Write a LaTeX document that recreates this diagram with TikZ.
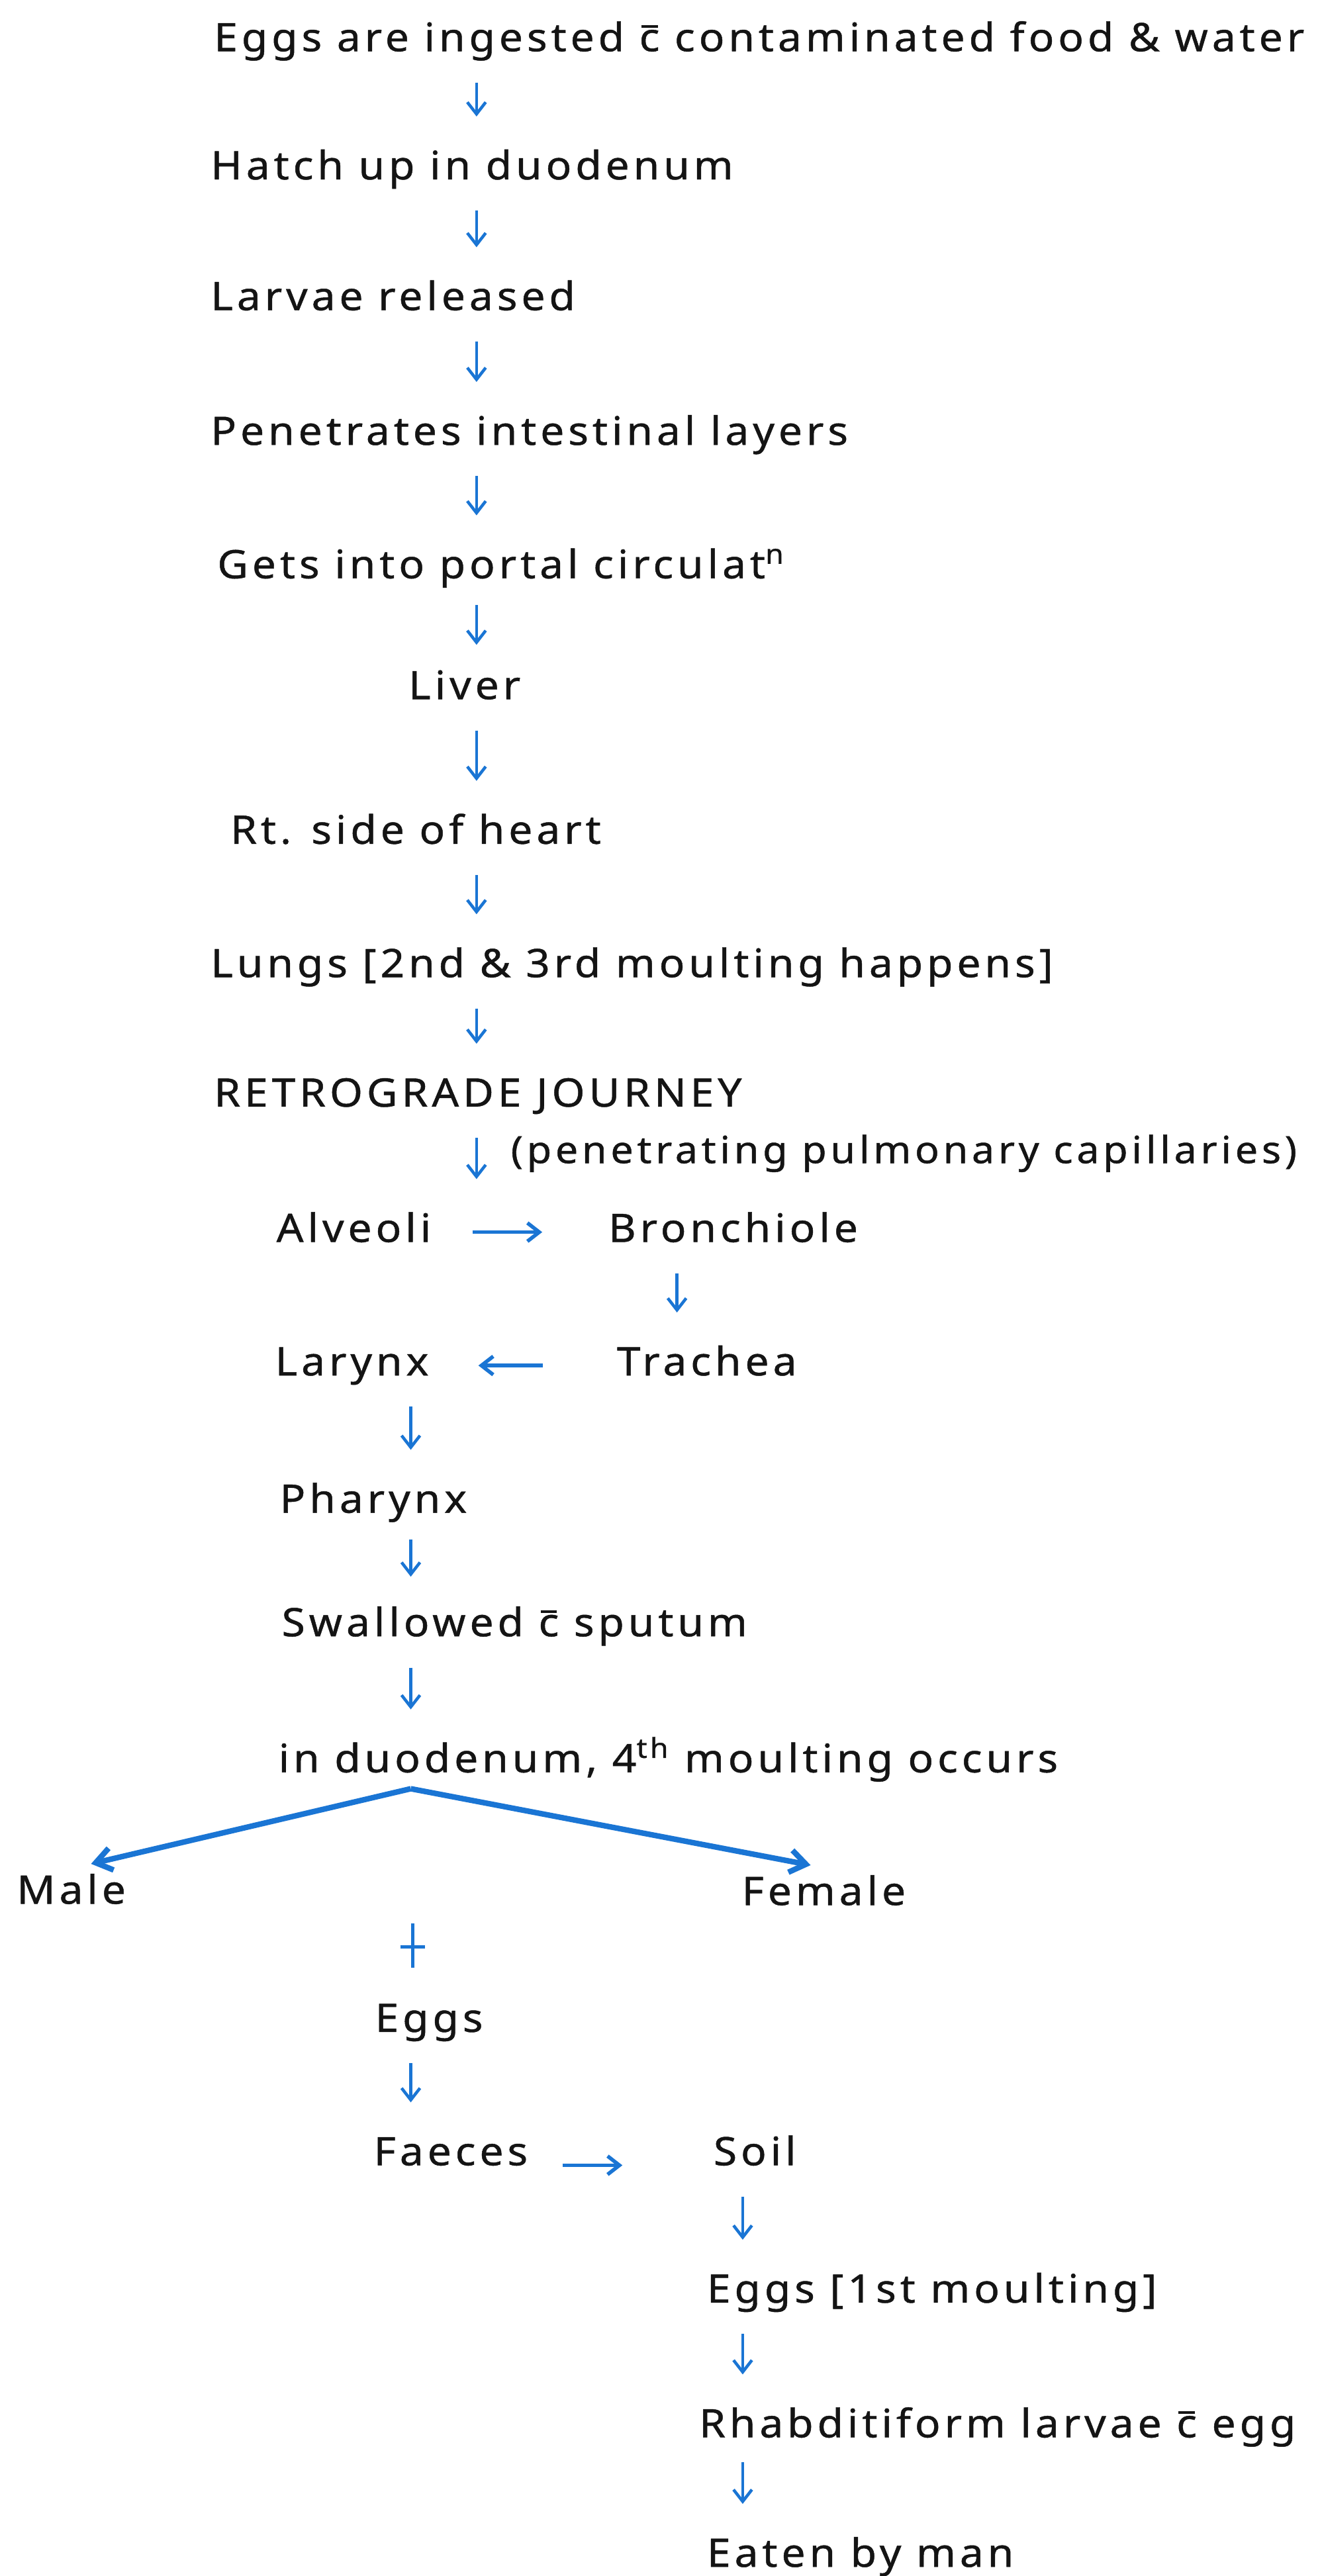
\documentclass[tikz,border=0pt]{standalone}
\usepackage{fontspec}
\setmainfont{Noto Sans}[LetterSpace=10,FakeStretch=1.08,FakeBold=0.8]
\usepackage{tikz}
\usetikzlibrary{arrows.meta,decorations.markings}
\definecolor{penblue}{RGB}{26,117,212}
\definecolor{inkblack}{RGB}{20,20,20}
% c with a bar (= with)
\newcommand{\cwith}{\rlap{\hspace{0.05em}\raisebox{0.6em}{\rule{0.42em}{0.06em}}}c}

\begin{document}
\begin{tikzpicture}[
  txt/.style={inner sep=0pt, text height=0.42cm, text depth=0.12cm, font=\fontsize{17}{20}\selectfont, text=inkblack},
  lbl/.style={txt, anchor=base west},
  flow/.style={-{Straight Barb[length=1.8mm,width=2.8mm]}, line width=1.3pt, penblue, shorten <=0.35cm, shorten >=0.53cm},
  side/.style={-{Straight Barb[length=1.8mm,width=2.8mm]}, line width=1.6pt, penblue},
  fork/.style={-{Straight Barb[length=2.4mm,width=3.4mm]}, line width=2.4pt, penblue},
  tick/.style={line width=1.3pt, penblue, decoration={markings, mark=at position 0.29 with {\draw[penblue, line width=1.3pt, shorten <=0pt, shorten >=0pt] (0,-0.19) -- (0,0.19);}}, postaction={decorate}}
]
  \useasboundingbox (0,0) rectangle (20.075,39.2);
  % arrow columns
  \coordinate (colA) at (7.25,0);
  \coordinate (colB) at (10.3,0);
  \coordinate (colC) at (6.25,0);
  \coordinate (colD) at (11.3,0);
  % entry and route to the lungs
  \node[lbl] (ingest) at (3.25,38.42) {Eggs are ingested \cwith{} contaminated food \& water};
  \node[lbl] (hatch) at (3.2,36.47) {Hatch up in duodenum};
  \node[lbl] (larvae) at (3.2,34.48) {Larvae released};
  \node[lbl] (penetr) at (3.2,32.43) {Penetrates intestinal layers};
  \node[lbl] (portal) at (3.3,30.40) {Gets into portal circulat\textsuperscript{n}};
  \node[lbl] (liver) at (6.21,28.56) {Liver};
  \node[lbl] (heart) at (3.5,26.36) {Rt. side of heart};
  \node[lbl] (lungs) at (3.2,24.33) {Lungs [2nd \& 3rd moulting happens]};
  \node[lbl] (retro) at (3.25,22.36) {RETROGRADE JOURNEY};
  \draw[flow] (ingest.south -| colA) -- (hatch.north -| colA);
  \draw[flow] (hatch.south -| colA) -- (larvae.north -| colA);
  \draw[flow] (larvae.south -| colA) -- (penetr.north -| colA);
  \draw[flow] (penetr.south -| colA) -- (portal.north -| colA);
  \draw[flow, shorten <=0.28cm, shorten >=0.4cm] (portal.south -| colA) -- (liver.north -| colA);
  \draw[flow] (liver.south -| colA) -- (heart.north -| colA);
  \draw[flow] (heart.south -| colA) -- (lungs.north -| colA);
  \draw[flow] (lungs.south -| colA) -- (retro.north -| colA);
  % retrograde journey
  \node[lbl] (alveoli) at (4.2,20.30) {Alveoli};
  \node[lbl] (bronch) at (9.25,20.30) {Bronchiole};
  \node[lbl] (larynx) at (4.18,18.27) {Larynx};
  \node[lbl] (trachea) at (9.38,18.27) {Trachea};
  \node[lbl] (pharynx) at (4.25,16.18) {Pharynx};
  \node[lbl] (sputum) at (4.28,14.30) {Swallowed \cwith{} sputum};
  \node[lbl] (duoden) at (4.23,12.23) {in duodenum, 4\textsuperscript{th} moulting occurs};
  \draw[flow] (retro.south -| colA) -- (alveoli.north -| colA) node[txt, font=\fontsize{16.2}{19}\selectfont, midway, anchor=west, xshift=0.5cm, yshift=0.17cm] {(penetrating pulmonary capillaries)};
  \draw[side, shorten <=0.62cm, shorten >=1.0cm] (alveoli.east) -- (bronch.west);
  \draw[flow] (bronch.south -| colB) -- (trachea.north -| colB);
  \draw[side, shorten <=1.12cm, shorten >=0.75cm] (trachea.west) -- (larynx.east);
  \draw[flow] (larynx.south -| colC) -- (pharynx.north -| colC);
  \draw[flow, shorten <=0.28cm, shorten >=0.48cm] (pharynx.south -| colC) -- (sputum.north -| colC);
  \draw[flow] (sputum.south -| colC) -- (duoden.north -| colC);
  % adults and eggs
  \node[lbl] (male) at (0.25,10.23) {Male};
  \node[lbl] (female) at (11.28,10.21) {Female};
  \coordinate (split) at (6.25,11.98);
  \draw[fork] (split) -- ([shift={(0.3,0.18)}]male.north);
  \draw[fork] (split) -- ([shift={(-0.2,0.18)}]female.north);
  \node[lbl] (eggs) at (5.7,8.28) {Eggs};
  \node[lbl] (faeces) at (5.68,6.25) {Faeces};
  \node[lbl] (soil) at (10.85,6.25) {Soil};
  \coordinate (mfork) at (6.28,9.93);
  \draw[tick, shorten >=0.55cm] (mfork) -- (eggs.north -| mfork);
  \draw[flow] (eggs.south -| colC) -- (faeces.north -| colC);
  \draw[side, shorten <=0.52cm, shorten >=1.38cm] (faeces.base east) -- (soil.base west);
  % development in soil
  \node[lbl] (eggsoil) at (10.75,4.16) {Eggs [1st moulting]};
  \node[lbl] (rhabd) at (10.63,2.11) {Rhabditiform larvae \cwith{} egg};
  \node[lbl] (eaten) at (10.75,0.14) {Eaten by man};
  \draw[flow] (soil.south -| colD) -- (eggsoil.north -| colD);
  \draw[flow] (eggsoil.south -| colD) -- (rhabd.north -| colD);
  \draw[flow, shorten <=0.25cm] (rhabd.south -| colD) -- (eaten.north -| colD);
\end{tikzpicture}
\end{document}
